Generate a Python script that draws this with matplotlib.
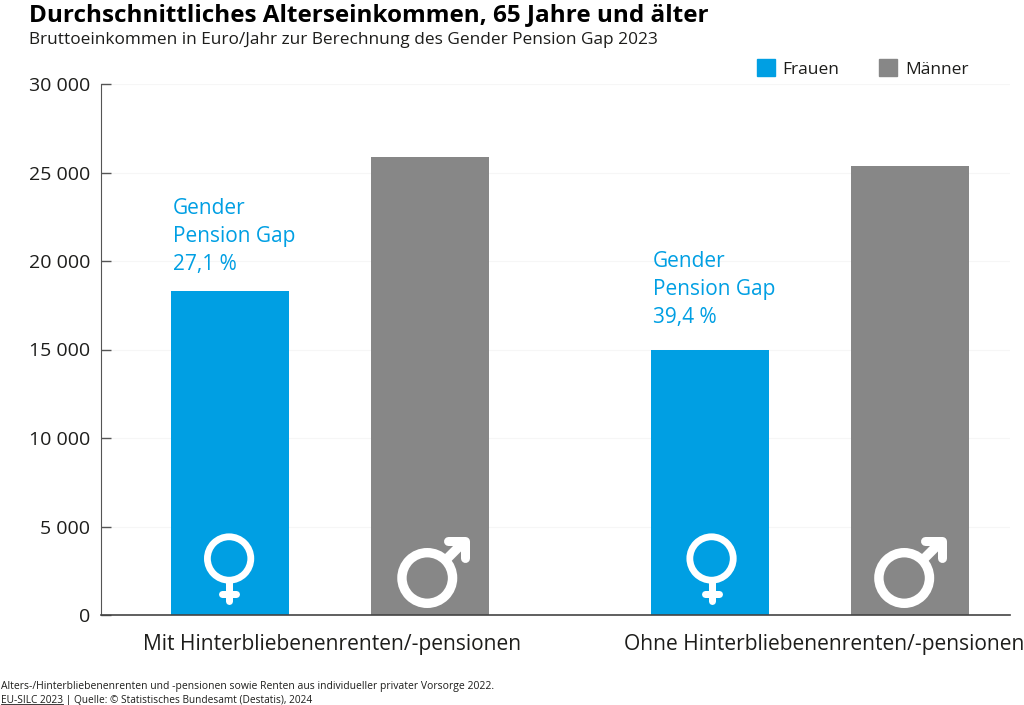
import matplotlib
matplotlib.use("Agg")
import matplotlib.pyplot as plt
from matplotlib.transforms import IdentityTransform
import numpy as np

plt.rcParams['font.family'] = ['Open Sans', 'DejaVu Sans']

groups = ["Mit Hinterbliebenenrenten/-pensionen", "Ohne Hinterbliebenenrenten/-pensionen"]
frauen = [18300, 14990]
maenner = [25880, 25370]
gaps = ["27,1 %", "39,4 %"]
yticks = [0, 5000, 10000, 15000, 20000, 25000, 30000]
yticklabels = ["0", "5 000", "10 000", "15 000", "20 000", "25 000", "30 000"]

blue = "#009fe3"
grey = "#878787"
dark = "#1d1d1b"

W, H = 1024, 705
fig = plt.figure(figsize=(W / 100, H / 100), dpi=100)
ax = fig.add_axes([101 / W, 1 - 615 / H, 909 / W, 531 / H])

x = np.arange(len(groups))
width = 0.246
offset = 0.208
ax.bar(x - offset, frauen, width, color=blue, zorder=2)
ax.bar(x + offset, maenner, width, color=grey, zorder=2)
ax.set_xlim(-0.477, 1.417)
ax.set_ylim(0, 30000)

ax.set_yticks(yticks)
ax.set_yticklabels(yticklabels, fontsize=14, color=dark)
ax.set_xticks([0.004, 1.029])
ax.set_xticklabels(groups, fontsize=15.1, color=dark)
ax.tick_params(axis='x', length=0, pad=14)
ax.tick_params(axis='y', direction='in', length=7, width=1, color="#555555", pad=8)
ax.grid(axis='y', color="#f6f6f6", lw=0.8, zorder=0)
for s in ['top', 'right']:
    ax.spines[s].set_visible(False)
ax.spines['left'].set_color("#555555")
ax.spines['bottom'].set_color("#444444")
ax.spines['bottom'].set_linewidth(1.2)

# annotation above the women's bars
label_lift = [930, 1210]
for i, gap in enumerate(gaps):
    ax.text(i - offset - width / 2 + 0.004, frauen[i] + label_lift[i],
            "Gender\nPension Gap\n" + gap, color=blue, fontsize=15,
            va='bottom', ha='left', linespacing=1.44)


# gender symbols, sizes in pixels relative to the bar centre on the baseline
def stroke(px):
    return px * 0.72


def female(cx, shift):
    x0, y0 = ax.transData.transform((cx, 0))
    x0 += shift
    t = IdentityTransform()
    ax.add_patch(plt.Circle((x0, y0 + 56.5), 21.7, fc='none', ec='white', lw=stroke(6.8), transform=t, zorder=3))
    ax.add_line(plt.Line2D([x0, x0], [y0 + 33, y0 + 14], color='white', lw=stroke(7), solid_capstyle='round', transform=t, zorder=3))
    ax.add_line(plt.Line2D([x0 - 7, x0 + 7], [y0 + 21, y0 + 21], color='white', lw=stroke(7), solid_capstyle='round', transform=t, zorder=3))


def male(cx, shift):
    x0, y0 = ax.transData.transform((cx, 0))
    x0 += shift
    t = IdentityTransform()
    ax.add_patch(plt.Circle((x0 - 2.5, y0 + 37), 25.3, fc='none', ec='white', lw=stroke(9.4), transform=t, zorder=3))
    ax.add_line(plt.Line2D([x0 + 16, x0 + 33], [y0 + 55, y0 + 72], color='white', lw=stroke(9.5), solid_capstyle='butt', transform=t, zorder=3))
    ax.add_line(plt.Line2D([x0 + 18, x0 + 35, x0 + 35], [y0 + 74.5, y0 + 74.5, y0 + 57.5], color='white', lw=stroke(9),
                           solid_capstyle='round', solid_joinstyle='round', transform=t, zorder=3))


female_shift = [-1, 1.5]
male_shift = [0, -3]
for i in x:
    female(i - offset, female_shift[i])
    male(i + offset, male_shift[i])

# legend
fig.patches.append(plt.Rectangle((757 / W, 1 - 76 / H), 18 / W, 17 / H, color=blue, transform=fig.transFigure))
fig.patches.append(plt.Rectangle((879 / W, 1 - 76 / H), 18 / W, 17 / H, color=grey, transform=fig.transFigure))
fig.text(782 / W, 1 - 70 / H, "Frauen", fontsize=12.5, color=dark, va='center')
fig.text(905 / W, 1 - 70 / H, "Männer", fontsize=12.5, color=dark, va='center')

# title block
fig.text(29 / W, 1 - 15 / H, "Durchschnittliches Alterseinkommen, 65 Jahre und älter",
         fontsize=17.45, fontweight='bold', color="black", va='center')
fig.text(29 / W, 1 - 40 / H, "Bruttoeinkommen in Euro/Jahr zur Berechnung des Gender Pension Gap 2023",
         fontsize=12.45, color=dark, va='center')

# footnote
fig.text(1 / W, 1 - 686 / H, "Alters-/Hinterbliebenenrenten und -pensionen sowie Renten aus individueller privater Vorsorge 2022.",
         fontsize=7.5, color=dark, va='center')
fig.text(1 / W, 1 - 701 / H, "EU-SILC 2023 | Quelle: © Statistisches Bundesamt (Destatis), 2024",
         fontsize=7.3, color=dark, va='center')
fig.add_artist(plt.Line2D([1 / W, 63 / W], [1 - 704 / H, 1 - 704 / H], color=dark, lw=0.6))

fig.savefig("out.png", dpi=100)
